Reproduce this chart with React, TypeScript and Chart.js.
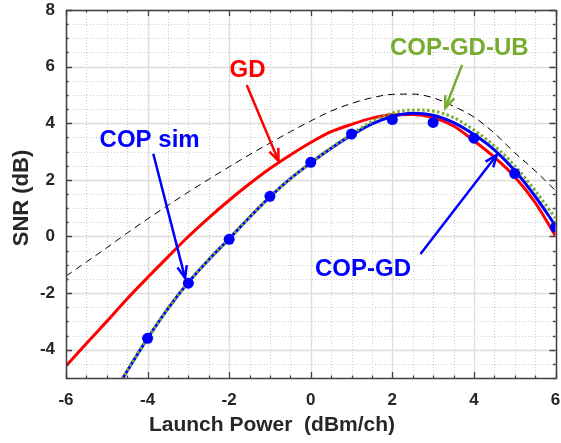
import React, { useEffect, useRef } from "react";
import { Chart, registerables } from "chart.js";

Chart.register(...registerables);

const X_MIN = -6;
const X_MAX = 6;
const Y_MIN = -5;
const Y_MAX = 8;
const MINOR_STEP = 0.5;
const X_TICKS = [-6, -4, -2, 0, 2, 4, 6];
const Y_TICKS = [-4, -2, 0, 2, 4, 6, 8];

const X_TITLE = "Launch Power  (dBm/ch)";
const Y_TITLE = "SNR (dB)";

const X_CURVE = [-6, -5.5, -5, -4.5, -4, -3.5, -3, -2.5, -2, -1.5, -1, -0.5, 0, 0.5, 1, 1.5, 2, 2.5, 3, 3.5, 4, 4.5, 5, 5.5, 6];
const GD = [-4.58, -3.78, -3.0, -2.2, -1.45, -0.72, 0.0, 0.66, 1.28, 1.86, 2.4, 2.88, 3.32, 3.7, 3.96, 4.18, 4.3, 4.31, 4.2, 3.9, 3.38, 2.8, 2.11, 1.2, 0.02];
const UPPER = [-1.4, -0.9, -0.4, 0.12, 0.62, 1.1, 1.57, 2.02, 2.46, 2.89, 3.3, 3.7, 4.08, 4.43, 4.7, 4.9, 5.02, 5.03, 4.9, 4.6, 4.22, 3.65, 2.96, 2.32, 1.62];

const X_COP = [-4.75, -4.5, -4, -3.5, -3, -2.5, -2, -1.5, -1, -0.5, 0, 0.5, 1, 1.5, 2, 2.5, 3, 3.5, 4, 4.5, 5, 5.5, 6];
const COP_GD = [-5.35, -4.75, -3.6, -2.55, -1.62, -0.82, -0.08, 0.68, 1.4, 2.04, 2.6, 3.12, 3.58, 3.98, 4.24, 4.35, 4.28, 4.02, 3.6, 3.06, 2.33, 1.42, 0.38];
const COP_GD_UB = [-5.35, -4.75, -3.6, -2.55, -1.62, -0.82, -0.08, 0.68, 1.4, 2.04, 2.6, 3.14, 3.62, 4.06, 4.36, 4.47, 4.43, 4.2, 3.76, 3.2, 2.5, 1.62, 0.65];

const X_SIM = [-4, -3, -2, -1, 0, 1, 2, 3, 4, 5, 6];
const COP_SIM = [-3.6, -1.65, -0.1, 1.42, 2.62, 3.62, 4.13, 4.03, 3.47, 2.22, 0.33];

const RED = "#FF0000";
const BLUE = "#0000FF";
const GREEN = "#77AC30";
const TEXT = "#262626";
const FONT = "'Liberation Sans', Arial, Helvetica, sans-serif";

const ANNOTATIONS = [
  { text: "GD", color: RED, tx: -1.55, ty: 5.85, from: [-1.57, 5.35], to: [-0.79, 2.67] },
  { text: "COP sim", color: BLUE, tx: -3.95, ty: 3.41, from: [-3.86, 2.92], to: [-3.08, -1.47] },
  { text: "COP-GD-UB", color: GREEN, tx: 3.64, ty: 6.63, from: [3.71, 6.06], to: [3.3, 4.54] },
  { text: "COP-GD", color: BLUE, tx: 1.28, ty: -1.18, from: [2.69, -0.62], to: [4.56, 2.88] },
];

const zip = (xs: number[], ys: number[]) => xs.map((x, i) => ({ x, y: ys[i] }));
const isMajor = (v: number, majors: number[]) => majors.some((m) => Math.abs(m - v) < 1e-6);

const gridPlugin = {
  id: "matlabGrid",
  beforeDatasetsDraw(chart: any) {
    const { ctx, chartArea, scales } = chart;
    const { left, right, top, bottom } = chartArea;
    const xs = scales.x;
    const ys = scales.y;
    ctx.save();
    ctx.lineWidth = 1;
    ctx.strokeStyle = "#cccccc";
    ctx.setLineDash([1, 2]);
    for (let v = X_MIN; v <= X_MAX + 1e-9; v += MINOR_STEP) {
      if (isMajor(v, X_TICKS)) continue;
      const p = Math.round(xs.getPixelForValue(v)) + 0.5;
      ctx.beginPath();
      ctx.moveTo(p, top);
      ctx.lineTo(p, bottom);
      ctx.stroke();
    }
    for (let v = Y_MIN; v <= Y_MAX + 1e-9; v += MINOR_STEP) {
      if (isMajor(v, Y_TICKS)) continue;
      const p = Math.round(ys.getPixelForValue(v)) + 0.5;
      ctx.beginPath();
      ctx.moveTo(left, p);
      ctx.lineTo(right, p);
      ctx.stroke();
    }
    ctx.setLineDash([]);
    ctx.strokeStyle = "#dcdcdc";
    ctx.lineWidth = 1.3;
    X_TICKS.forEach((v) => {
      const p = Math.round(xs.getPixelForValue(v)) + 0.5;
      ctx.beginPath();
      ctx.moveTo(p, top);
      ctx.lineTo(p, bottom);
      ctx.stroke();
    });
    Y_TICKS.forEach((v) => {
      const p = Math.round(ys.getPixelForValue(v)) + 0.5;
      ctx.beginPath();
      ctx.moveTo(left, p);
      ctx.lineTo(right, p);
      ctx.stroke();
    });
    ctx.restore();
  },
  afterDatasetsDraw(chart: any) {
    const { ctx, chartArea, scales } = chart;
    const { left, right, top, bottom } = chartArea;
    const xs = scales.x;
    const ys = scales.y;
    ctx.save();
    ctx.strokeStyle = "#404040";
    ctx.lineWidth = 1.3;
    ctx.setLineDash([]);
    for (let v = X_MIN; v <= X_MAX + 1e-9; v += MINOR_STEP) {
      const len = isMajor(v, X_TICKS) ? 6 : 2.5;
      const p = Math.round(xs.getPixelForValue(v)) + 0.5;
      ctx.beginPath();
      ctx.moveTo(p, bottom);
      ctx.lineTo(p, bottom - len);
      ctx.moveTo(p, top);
      ctx.lineTo(p, top + len);
      ctx.stroke();
    }
    for (let v = Y_MIN; v <= Y_MAX + 1e-9; v += MINOR_STEP) {
      const len = isMajor(v, Y_TICKS) ? 6 : 2.5;
      const p = Math.round(ys.getPixelForValue(v)) + 0.5;
      ctx.beginPath();
      ctx.moveTo(left, p);
      ctx.lineTo(left + len, p);
      ctx.moveTo(right, p);
      ctx.lineTo(right - len, p);
      ctx.stroke();
    }
    ctx.lineWidth = 1.5;
    ctx.strokeRect(Math.round(left) + 0.5, Math.round(top) + 0.5, Math.round(right - left), Math.round(bottom - top));

    ANNOTATIONS.forEach((a) => {
      const x1 = xs.getPixelForValue(a.from[0]);
      const y1 = ys.getPixelForValue(a.from[1]);
      const x2 = xs.getPixelForValue(a.to[0]);
      const y2 = ys.getPixelForValue(a.to[1]);
      ctx.strokeStyle = a.color;
      ctx.lineWidth = 2.5;
      ctx.beginPath();
      ctx.moveTo(x1, y1);
      ctx.lineTo(x2, y2);
      ctx.stroke();
      const ang = Math.atan2(y2 - y1, x2 - x1);
      const hl = 13;
      const spread = 0.38;
      ctx.beginPath();
      ctx.moveTo(x2 - hl * Math.cos(ang - spread), y2 - hl * Math.sin(ang - spread));
      ctx.lineTo(x2, y2);
      ctx.lineTo(x2 - hl * Math.cos(ang + spread), y2 - hl * Math.sin(ang + spread));
      ctx.stroke();
      ctx.fillStyle = a.color;
      ctx.font = `bold 24px ${FONT}`;
      ctx.textAlign = "center";
      ctx.textBaseline = "middle";
      ctx.fillText(a.text, xs.getPixelForValue(a.tx), ys.getPixelForValue(a.ty));
    });

    // axis titles
    ctx.fillStyle = TEXT;
    ctx.textAlign = "center";
    ctx.textBaseline = "middle";
    ctx.font = `bold 21px ${FONT}`;
    ctx.fillText(X_TITLE, 272, 425);
    ctx.save();
    ctx.translate(22, 198);
    ctx.rotate(-Math.PI / 2);
    ctx.font = `bold 22px ${FONT}`;
    ctx.fillText(Y_TITLE, 0, 0);
    ctx.restore();
    ctx.restore();
  },
};

export default function App() {
  const ref = useRef<HTMLCanvasElement | null>(null);
  useEffect(() => {
    if (!ref.current) return;
    const chart = new Chart(ref.current, {
      type: "line",
      data: {
        datasets: [
          {
            label: "COP sim",
            data: zip(X_SIM, COP_SIM),
            showLine: false,
            pointRadius: 5.5,
            pointBackgroundColor: BLUE,
            pointBorderColor: BLUE,
            pointBorderWidth: 0,
            borderColor: BLUE,
          },
          {
            label: "COP-GD-UB",
            data: zip(X_COP, COP_GD_UB),
            borderColor: GREEN,
            borderWidth: 3,
            borderDash: [2.5, 2.5],
            pointRadius: 0,
            cubicInterpolationMode: "monotone",
            fill: false,
          },
          {
            label: "COP-GD",
            data: zip(X_COP, COP_GD),
            borderColor: BLUE,
            borderWidth: 3,
            pointRadius: 0,
            cubicInterpolationMode: "monotone",
            fill: false,
          },
          {
            label: "GD",
            data: zip(X_CURVE, GD),
            borderColor: RED,
            borderWidth: 3,
            pointRadius: 0,
            cubicInterpolationMode: "monotone",
            fill: false,
          },
          {
            label: "Upper",
            data: zip(X_CURVE, UPPER),
            borderColor: "#000000",
            borderWidth: 1,
            borderDash: [7, 5],
            pointRadius: 0,
            cubicInterpolationMode: "monotone",
            fill: false,
          },
        ],
      },
      options: {
        animation: false,
        responsive: false,
        devicePixelRatio: 1,
        layout: { padding: { left: 0, right: 2, top: 10, bottom: 0 } },
        plugins: { legend: { display: false }, tooltip: { enabled: false } },
        events: [],
        scales: {
          x: {
            type: "linear",
            min: X_MIN,
            max: X_MAX,
            grid: { display: false, drawTicks: false },
            border: { display: false },
            afterBuildTicks: (axis: any) => {
              axis.ticks = X_TICKS.map((v) => ({ value: v }));
            },
            afterFit: (axis: any) => {
              axis.height = 65;
              axis.paddingLeft = 0;
              axis.paddingRight = 0;
            },
            ticks: {
              color: TEXT,
              font: { family: FONT, size: 17, weight: "bold" },
              padding: 12,
              maxRotation: 0,
              autoSkip: false,
              callback: (v: any) => String(v),
            },
            title: { display: false },
          },
          y: {
            type: "linear",
            min: Y_MIN,
            max: Y_MAX,
            grid: { display: false, drawTicks: false },
            border: { display: false },
            afterBuildTicks: (axis: any) => {
              axis.ticks = Y_TICKS.map((v) => ({ value: v }));
            },
            afterFit: (axis: any) => {
              axis.width = 66;
              axis.paddingTop = 0;
              axis.paddingBottom = 0;
            },
            ticks: {
              color: TEXT,
              font: { family: FONT, size: 17, weight: "bold" },
              padding: 11,
              autoSkip: false,
              callback: (v: any) => String(v),
            },
            title: { display: false },
          },
        },
      },
      plugins: [gridPlugin],
    });
    return () => chart.destroy();
  }, []);
  return (
    <div style={{ position: "fixed", left: 0, top: 0, width: 561, height: 443, background: "#ffffff" }}>
      <canvas ref={ref} width={561} height={443} style={{ display: "block" }} />
    </div>
  );
}
